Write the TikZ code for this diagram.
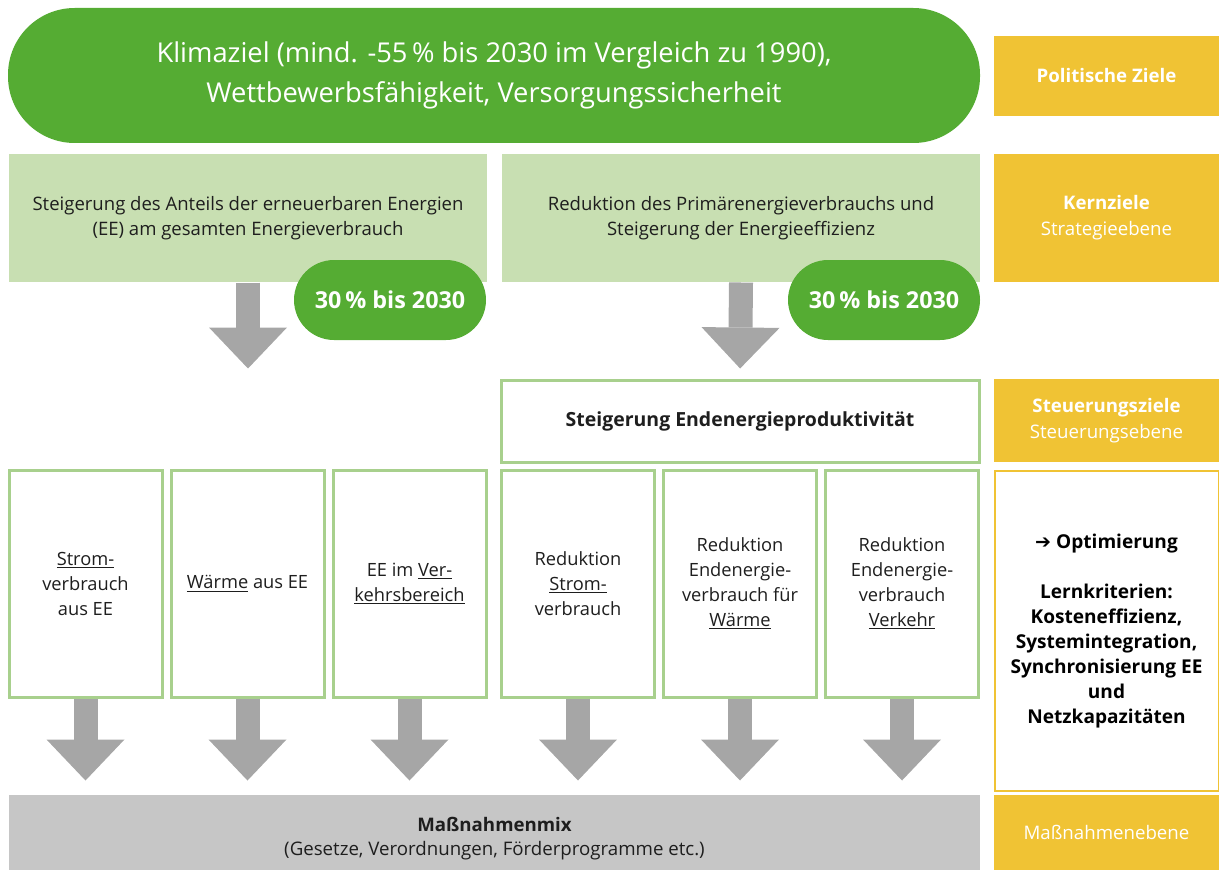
\documentclass[tikz,border=0pt]{standalone}
\usepackage{fontspec}
\setmainfont{Open Sans}
\newfontfamily\symfont{DejaVu Sans}
\usetikzlibrary{arrows.meta}

\definecolor{zielgruen}{RGB}{85,172,51}
\definecolor{hellgruen}{RGB}{200,223,178}
\definecolor{randgruen}{RGB}{168,208,141}
\definecolor{ebenegelb}{RGB}{240,195,52}
\definecolor{mixgrau}{RGB}{198,198,198}
\definecolor{pfeilgrau}{RGB}{166,166,166}
\definecolor{textschwarz}{RGB}{30,30,30}

\tikzset{every picture/.style={line width=0.75pt}}
\tikzset{
	ebene/.style={fill=ebenegelb, text=white, align=center, inner sep=0pt, minimum width=168.75pt, font=\fontsize{14}{19.5}\selectfont},
	kernbox/.style={fill=hellgruen, text=textschwarz, align=center, inner sep=0pt, minimum width=358.5pt, minimum height=96pt, font=\fontsize{13.9}{18.75}\selectfont},
	zahlpille/.style={fill=zielgruen, text=white, rounded corners=30pt, inner sep=0pt, minimum width=144pt, minimum height=60pt, font=\fontsize{17.5}{20}\selectfont\bfseries},
	zielbox/.style={draw=randgruen, line width=2.25pt, fill=white, text=textschwarz, align=center, inner sep=0pt, font=\fontsize{13.7}{18.75}\selectfont},
	blockpfeil/.style={draw=pfeilgrau, line width=18pt, -{Triangle[width=58.5pt,length=30.75pt,line width=0pt]}}
}

\begin{document}
\begin{tikzpicture}[x=0.75pt,y=0.75pt,yscale=-1,xscale=1]
		\useasboundingbox (0,0) rectangle (1219,870);

		% politische Ziele
		\node [fill=zielgruen, text=white, rounded corners=50pt, align=center, inner sep=0pt, minimum width=729pt, minimum height=101.25pt, font=\fontsize{20.5}{30}\selectfont] (klima) at (494,75.5) {Klimaziel (mind. -55\,\% bis 2030 im Vergleich zu 1990),\\Wettbewerbsfähigkeit, Versorgungssicherheit};

		% Kernziele
		\node [kernbox] (kernEE) at (248,218) {Steigerung des Anteils der erneuerbaren Energien\\(EE) am gesamten Energieverbrauch};
		\node [kernbox] (kernEff) at (741,218) {Reduktion des Primärenergieverbrauchs und\\Steigerung der Energieeffizienz};
		\node [zahlpille] (quoteEE) at (390,300) {30\,\% bis 2030};
		\node [zahlpille] (quoteEff) at (884,300) {30\,\% bis 2030};

		% Steuerungsziel
		\node [zielbox, minimum width=358.5pt, minimum height=61.5pt, font=\fontsize{14.6}{18.75}\selectfont\bfseries] (steuer) at (740,421) {Steigerung Endenergieproduktivität};

		% Kriterien
		\node [zielbox, minimum width=114.75pt, minimum height=170.25pt] (strom) at (85.5,583.5) {\underline{Strom-}\\verbrauch\\aus EE};
		\node [zielbox, minimum width=114.75pt, minimum height=170.25pt] (waerme) at (247.5,583.5) {\underline{Wärme} aus EE};
		\node [zielbox, minimum width=114.75pt, minimum height=170.25pt] (verkehr) at (409.5,583.5) {EE im \underline{Ver-}\\\underline{kehrsbereich}};
		\node [zielbox, minimum width=114.75pt, minimum height=170.25pt] (redStrom) at (578,583.5) {Reduktion\\\underline{Strom-}\\verbrauch};
		\node [zielbox, minimum width=114.75pt, minimum height=170.25pt] (redWaerme) at (740,583.5) {Reduktion\\Endenergie-\\verbrauch für\\\underline{Wärme}};
		\node [zielbox, minimum width=114.75pt, minimum height=170.25pt] (redVerkehr) at (902,583.5) {Reduktion\\Endenergie-\\verbrauch\\\underline{Verkehr}};

		% Maßnahmen
		\node [fill=mixgrau, inner sep=0pt, minimum width=728.25pt, minimum height=56.25pt] (mix) at (494.5,832.5) {};
		\node [text=textschwarz, align=center, inner sep=0pt, font=\fontsize{14}{18}\selectfont] (mixtext) at (494.5,839) {\textbf{Maßnahmenmix}\\(Gesetze, Verordnungen, Förderprogramme etc.)};

		% Ebenen
		\node [ebene, minimum height=60pt] (polit) at (1106.5,76) {\textbf{Politische Ziele}};
		\node [ebene, minimum height=96pt] (kern) at (1106.5,218) {\textbf{Kernziele}\\Strategieebene};
		\node [ebene, minimum height=62.25pt] (steuerz) at (1106.5,420.5) {\textbf{Steuerungsziele}\\Steuerungsebene};
		\node [draw=ebenegelb, line width=1.5pt, fill=white, text=black, align=center, inner sep=0pt, minimum width=168pt, minimum height=240.5pt, font=\fontsize{14.3}{18.75}\selectfont\bfseries] (optim) at (1106.5,631) {{\symfont\bfseries ➔} Optimierung\\[18.75pt]Lernkriterien:\\Kosteneffizienz,\\Systemintegration,\\Synchronisierung EE\\und\\Netzkapazitäten};
		\node [ebene, minimum height=56.25pt] (massn) at (1106.5,832.5) {Maßnahmenebene};

		% Pfeile
		\draw [blockpfeil, shorten >=7.5pt] (kernEE.south) -- (kernEE.south |- steuer.north);
		\draw [blockpfeil, shorten >=7.5pt] (kernEff.south) -- (steuer.north);
		\foreach \k in {strom,waerme,verkehr,redStrom,redWaerme,redVerkehr}
			\draw [blockpfeil, shorten >=10.5pt] (\k.south) -- (\k.south |- mix.north);

\end{tikzpicture}
\end{document}
